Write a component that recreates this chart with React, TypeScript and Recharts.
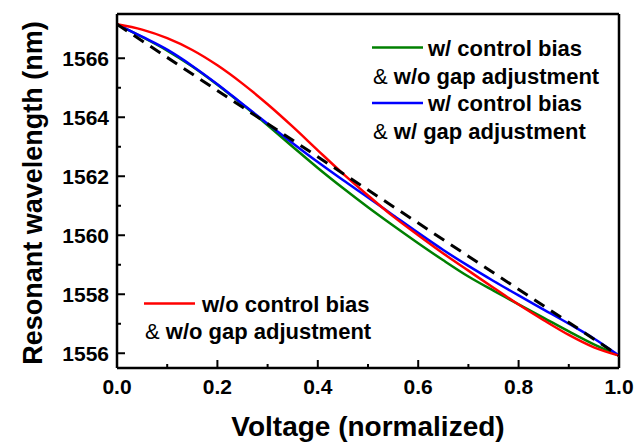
import React from "react";
import { LineChart, Line, XAxis, YAxis, ReferenceLine, Customized } from "recharts";

const FONT = "'Liberation Sans', Arial, Helvetica, sans-serif";

const voltage = [0, 0.05, 0.1, 0.15, 0.2, 0.25, 0.3, 0.35, 0.4, 0.45, 0.5, 0.55, 0.6, 0.65, 0.7, 0.75, 0.8, 0.85, 0.9, 0.95, 1.0];

// w/o control bias & w/o gap adjustment
const redNoBias = [1567.15, 1566.97, 1566.68, 1566.28, 1565.76, 1565.14, 1564.44, 1563.68, 1562.88, 1562.09, 1561.35, 1560.64, 1560.0, 1559.38, 1558.8, 1558.22, 1557.65, 1557.12, 1556.62, 1556.2, 1555.92];
// w/ control bias & w/o gap adjustment
const greenBias = [1567.15, 1566.72, 1566.26, 1565.72, 1565.1, 1564.43, 1563.73, 1563.0, 1562.28, 1561.6, 1560.95, 1560.33, 1559.73, 1559.15, 1558.6, 1558.12, 1557.66, 1557.2, 1556.74, 1556.3, 1555.92];
// w/ control bias & w/ gap adjustment
const blueBiasGap = [1567.15, 1566.73, 1566.29, 1565.74, 1565.12, 1564.45, 1563.78, 1563.12, 1562.48, 1561.87, 1561.28, 1560.68, 1560.08, 1559.5, 1558.96, 1558.45, 1557.96, 1557.48, 1557.0, 1556.5, 1555.92];
// ideal linear reference
const idealX = [0, 1];
const idealY = [1567.15, 1555.92];

const xTicks = [0, 0.1, 0.2, 0.3, 0.4, 0.5, 0.6, 0.7, 0.8, 0.9, 1.0];
const yTicks = [1556, 1557, 1558, 1559, 1560, 1561, 1562, 1563, 1564, 1565, 1566];

const toSeries = (xs: number[], ys: number[]) => xs.map((x, i) => ({ x, y: ys[i] }));
const redData = toSeries(voltage, redNoBias);
const greenData = toSeries(voltage, greenBias);
const blueData = toSeries(voltage, blueBiasGap);
const idealData = toSeries(idealX, idealY);

const XTick = (props: any) => {
  const { x, y, payload } = props;
  const v = payload.value as number;
  const major = Math.round(v * 10) % 2 === 0;
  return (
    <g>
      <line x1={x} y1={y} x2={x} y2={y - (major ? 8 : 4)} stroke="#000" strokeWidth={2} />
      {major && (
        <text x={x} y={y + 26} textAnchor="middle" fontFamily={FONT} fontWeight="bold" fontSize={21} fill="#000">
          {v.toFixed(1)}
        </text>
      )}
    </g>
  );
};

const YTick = (props: any) => {
  const { x, y, payload } = props;
  const v = payload.value as number;
  const major = v % 2 === 0;
  return (
    <g>
      <line x1={x} y1={y} x2={x + (major ? 8 : 4)} y2={y} stroke="#000" strokeWidth={2} />
      {major && (
        <text x={x - 8} y={y + 7.5} textAnchor="end" fontFamily={FONT} fontWeight="bold" fontSize={21} fill="#000">
          {v}
        </text>
      )}
    </g>
  );
};

const Texts = () => {
  const t = (x: number, y: number, amp: boolean, body: string, key: string) => (
    <text key={key} x={x} y={y} fontFamily={FONT} fontSize={22} fontWeight="bold" fill="#000">
      {amp && <tspan fontWeight="normal">{"& "}</tspan>}
      {body}
    </text>
  );
  return (
    <g>
      <text x={42} y={193} transform="rotate(-90 42 193)" textAnchor="middle" fontFamily={FONT} fontWeight="bold" fontSize={27} fill="#000">
        Resonant wavelength (nm)
      </text>
      <text x={368} y={436} textAnchor="middle" fontFamily={FONT} fontWeight="bold" fontSize={28} fill="#000">
        Voltage (normalized)
      </text>
      <line x1={372} y1={47.5} x2={423} y2={47.5} stroke="#008000" strokeWidth={2.5} />
      {t(428, 56, false, "w/ control bias", "a")}
      {t(373, 83.5, true, "w/o gap adjustment", "b")}
      <line x1={372} y1={103} x2={423} y2={103} stroke="#0000ff" strokeWidth={2.5} />
      {t(428, 111, false, "w/ control bias", "c")}
      {t(373, 138.5, true, "w/ gap adjustment", "d")}
      <line x1={144} y1={303.5} x2={195} y2={303.5} stroke="#ff0000" strokeWidth={2.5} />
      {t(202, 311.5, false, "w/o control bias", "e")}
      {t(145, 338.5, true, "w/o gap adjustment", "f")}
    </g>
  );
};

export default function App() {
  return (
    <div style={{ position: "fixed", left: 0, top: 0, width: 644, height: 442, background: "#fff" }}>
      <LineChart width={644} height={442} margin={{ top: 14, right: 25, left: 0, bottom: 0 }}>
        <XAxis
          type="number"
          dataKey="x"
          domain={[0, 1]}
          ticks={xTicks}
          interval={0}
          tickSize={0}
          tickMargin={0}
          tickLine={false}
          tick={<XTick />}
          height={74}
          axisLine={{ stroke: "#000", strokeWidth: 2.5 }}
        />
        <YAxis
          type="number"
          domain={[1555.5, 1567.5]}
          ticks={yTicks}
          interval={0}
          tickSize={0}
          tickMargin={0}
          tickLine={false}
          tick={<YTick />}
          width={117}
          axisLine={{ stroke: "#000", strokeWidth: 2.5 }}
        />
        <ReferenceLine y={1567.5} stroke="#000" strokeWidth={2.5} />
        <ReferenceLine x={1} stroke="#000" strokeWidth={2.5} />
        <Line data={greenData} dataKey="y" type="monotone" stroke="#008000" strokeWidth={2.5} dot={false} isAnimationActive={false} />
        <Line data={blueData} dataKey="y" type="monotone" stroke="#0000ff" strokeWidth={2.5} dot={false} isAnimationActive={false} />
        <Line data={redData} dataKey="y" type="monotone" stroke="#ff0000" strokeWidth={2.5} dot={false} isAnimationActive={false} />
        <Line data={idealData} dataKey="y" type="linear" stroke="#000" strokeWidth={3} strokeDasharray="12 8" dot={false} isAnimationActive={false} />
        <Customized component={Texts} />
      </LineChart>
    </div>
  );
}
